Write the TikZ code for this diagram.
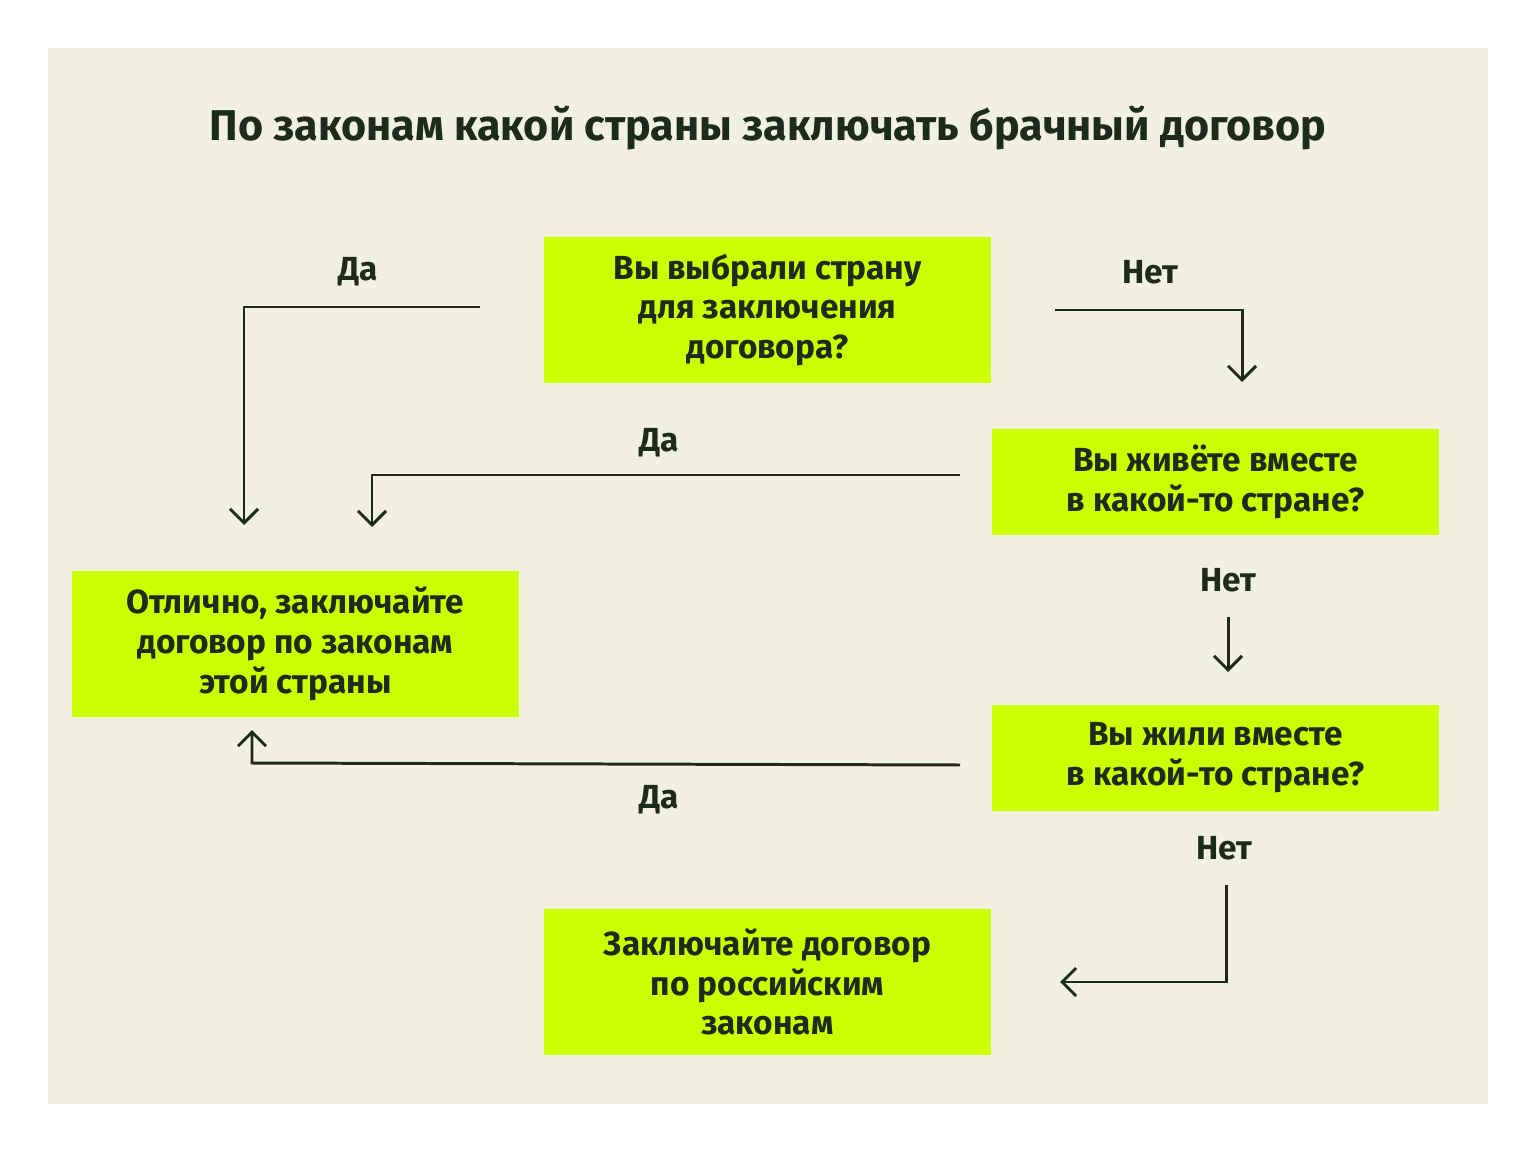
\documentclass[tikz,border=0pt]{standalone}
\usepackage{fontspec}
\setmainfont{Fira Sans}
\usetikzlibrary{arrows.meta}
\definecolor{bg}{HTML}{F2F1DF}
\definecolor{lime}{HTML}{CCFF00}
\definecolor{ink}{HTML}{1C2B1A}
\begin{document}
\begin{tikzpicture}[x=0.02cm,y=-0.02cm,
  box/.style={fill=lime,minimum width=447*0.02cm,align=center,text=ink,font=\fontsize{19}{22.7}\selectfont\bfseries},
  lbl/.style={text=ink,font=\fontsize{19}{22.7}\selectfont\bfseries},
  arr/.style={draw=ink,line width=1.7pt,-{Straight Barb[length=8pt,width=16pt,line width=1.7pt]}}]
\useasboundingbox (0,0) rectangle (1536,1152);
\fill[white] (0,0) rectangle (1536,1152);
\fill[bg] (48,48) rectangle (1488,1104);
\node[text=ink,font=\fontsize{24.5}{28}\selectfont\bfseries] (title) at (768,128) {По законам какой страны заключать брачный договор};
\node[box,minimum height=146*0.02cm] (b1) at (767.5,310) {Вы выбрали страну\\для заключения\\договора?};
\node[box,minimum height=106*0.02cm] (b2) at (1215.5,482) {Вы живёте вместе\\в какой-то стране?};
\node[box,minimum height=106*0.02cm] (b3) at (1215.5,758) {Вы жили вместе\\в какой-то стране?};
\node[box,minimum height=146*0.02cm] (b4) at (295.5,644) {Отлично, заключайте\\договор по законам\\этой страны};
\node[box,minimum height=146*0.02cm] (b5) at (767.5,982) {Заключайте договор\\по российским\\законам};
\coordinate (a1s) at (480,307); \coordinate (a1e) at (244,525);
\coordinate (a2s) at (1055,310); \coordinate (a2e) at (1242,382);
\coordinate (a3s) at (960,475); \coordinate (a3e) at (372,527);
\coordinate (a4s) at (1228,617); \coordinate (a4e) at (1228,672);
\coordinate (a5s) at (960,765); \coordinate (a5e) at (252,730);
\coordinate (a6s) at (1226,885); \coordinate (a6e) at (1060,982);
\draw[arr] (a1s) -| (a1e);
\draw[arr] (a2s) -| (a2e);
\draw[arr] (a3s) -| (a3e);
\draw[arr] (a4s) -- (a4e);
\draw[arr] (a5s) -- (252,763) -- (a5e);
\draw[arr] (a6s) |- (a6e);
\node[lbl] (l1) at (358,272) {Да};
\node[lbl] (l2) at (1150,272) {Нет};
\node[lbl] (l3) at (659,443) {Да};
\node[lbl] (l4) at (1228,580) {Нет};
\node[lbl] (l5) at (659,800) {Да};
\node[lbl] (l6) at (1224,848) {Нет};
\end{tikzpicture}
\end{document}
